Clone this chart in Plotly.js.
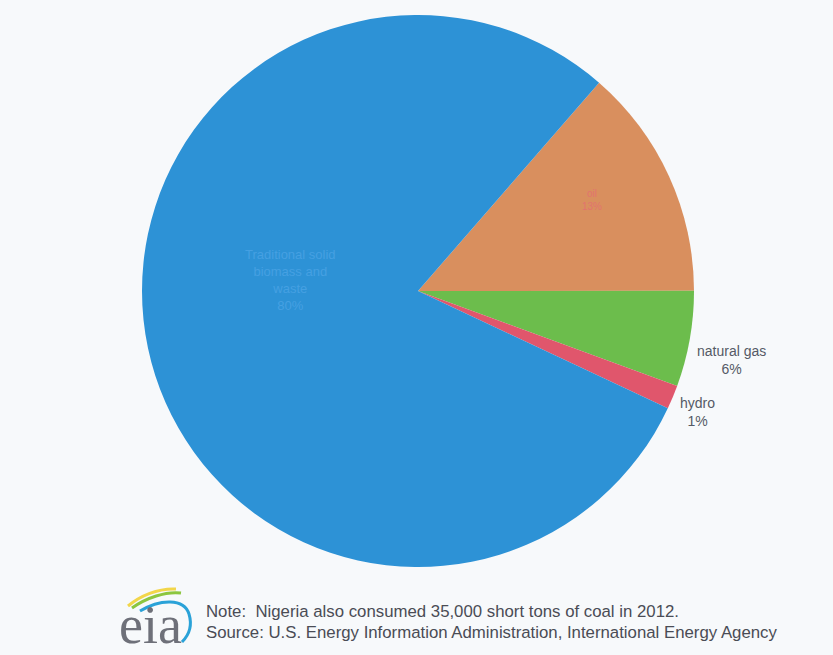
<!DOCTYPE html>
<html>
<head>
<meta charset="utf-8">
<script src="https://cdn.plot.ly/plotly-3.0.1.min.js"></script>
<style>html,body{margin:0;padding:0;background:#f7f9fb;}#chart{width:833px;height:655px;}</style>
</head>
<body>
<div id="chart"></div>
<script>
// Data
const labels = ["oil", "natural gas", "hydro", "Traditional solid biomass and waste"];
const shares = [13.6, 5.6, 1.4, 79.4];
const labelNames = ["oil", "natural gas", "hydro", "Traditional solid<br>biomass and<br>waste"];
const pctLabels = ["13%", "6%", "1%", "80%"];
const noteText = "Note:  Nigeria also consumed 35,000 short tons of coal in 2012.";
const sourceText = "Source: U.S. Energy Information Administration, International Energy Agency";

const W = 833, H = 655;
const X = px => px / W;
const Y = py => 1 - py / H;
const cx = 418, cy = 291, r = 276;

function path(points) {
  return points.map((p, i) => (i === 0 ? "M" : (p.length === 6 ? "C" : "L")) +
    (p.length === 6 ? [X(p[0]), Y(p[1]), X(p[2]), Y(p[3]), X(p[4]), Y(p[5])].join(",") : X(p[0]) + "," + Y(p[1]))).join(" ");
}

const trace = {
  type: "pie",
  labels: labels,
  values: shares,
  textinfo: "none",
  sort: false,
  direction: "clockwise",
  rotation: 41,
  marker: {colors: ["#d98f5e", "#6cbd4c", "#e0566c", "#2d92d6"], line: {width: 0}},
  showlegend: false,
  hoverinfo: "label+percent",
  domain: {x: [X(cx - r), X(cx + r)], y: [Y(cy + r), Y(cy - r)]}
};

// label placement (px) and styles
const labelPos = [[592, 200], [731, 360], [697, 412], [290, 280]];
const labelSize = [10, 14, 14, 13];
const labelColor = ["#e2736e", "#555a66", "#555a66", "#45a0e2"];
const sliceAnn = labels.map((_, i) => ({
  text: labelNames[i] + "<br>" + pctLabels[i], xref: "paper", yref: "paper",
  x: X(labelPos[i][0]), y: Y(labelPos[i][1]), xanchor: "center", yanchor: "middle", showarrow: false,
  font: {family: "Liberation Sans, Arial, sans-serif", size: labelSize[i], color: labelColor[i]}
}));

const layout = {
  width: W, height: H,
  margin: {l: 0, r: 0, t: 0, b: 0},
  paper_bgcolor: "#f7f9fb",
  plot_bgcolor: "#f7f9fb",
  showlegend: false,
  annotations: sliceAnn.concat([
    {text: noteText, xref: "paper", yref: "paper", x: X(204), y: Y(611), xanchor: "left", yanchor: "middle",
     showarrow: false, font: {family: "Liberation Sans Narrow, Arial Narrow, Liberation Sans, sans-serif", size: 16.8, color: "#4a4c55"}},
    {text: sourceText, xref: "paper", yref: "paper", x: X(204), y: Y(632), xanchor: "left", yanchor: "middle",
     showarrow: false, font: {family: "Liberation Sans Narrow, Arial Narrow, Liberation Sans, sans-serif", size: 16.8, color: "#4a4c55"}},
    {text: "eia", xref: "paper", yref: "paper", x: X(150), y: Y(625), xanchor: "center", yanchor: "middle",
     showarrow: false, font: {family: "Liberation Serif, DejaVu Serif, serif", size: 54, color: "#6e7079"}}
  ]),
  shapes: [
    {type: "path", xref: "paper", yref: "paper", path: path([[128, 606], [140, 596, 158, 588, 176, 589]]),
     line: {color: "#f2d64a", width: 3}},
    {type: "path", xref: "paper", yref: "paper", path: path([[132, 608], [146, 598, 166, 591, 181, 593]]),
     line: {color: "#8cc63f", width: 3}},
    {type: "path", xref: "paper", yref: "paper", path: path([[140, 611], [160, 599, 184, 598, 189, 614], [192, 624, 190, 634, 182, 642]]),
     line: {color: "#2aa2d8", width: 3}}
  ]
};

Plotly.newPlot("chart", [trace], layout, {displayModeBar: false, staticPlot: true});
</script>
</body>
</html>
